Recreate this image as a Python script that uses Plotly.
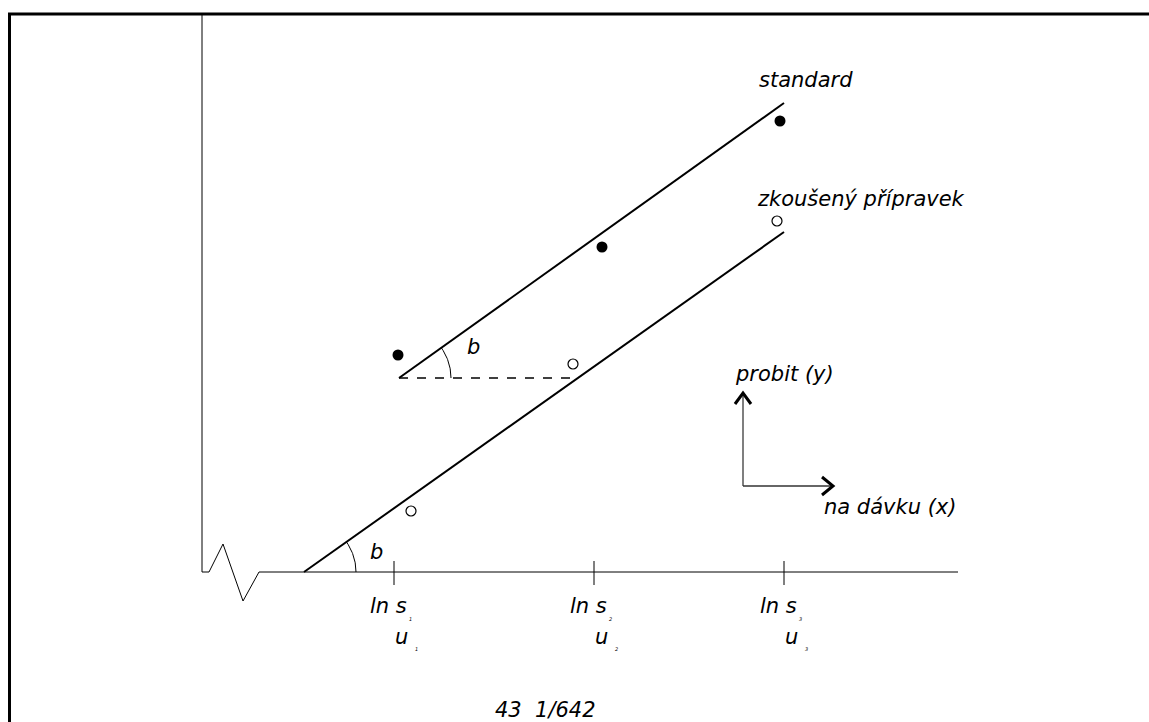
import numpy as np
import plotly.graph_objects as go

# ---- diagram data (diagram units: x = ln dose, y = probit; origin at axis corner) ----
std_x = [1.96, 4.00, 5.78]          # standard (filled points)
std_y = [2.17, 3.25, 4.51]
test_x = [2.09, 3.71, 5.75]         # zkoušený přípravek (open points)
test_y = [0.61, 2.08, 3.51]

std_line_x = [1.97, 5.82]
std_line_y = [1.94, 4.69]
test_line_x = [1.02, 5.82]
test_line_y = [0.00, 3.40]

dash_x = [1.97, 3.71]
dash_y = [1.94, 1.94]

tick_x = [1.92, 3.92, 5.82]
tick_sub = ["1", "2", "3"]

axis_x = [0.00, 0.07, 0.21, 0.41, 0.57, 7.56]   # x axis with break
axis_y = [0.00, 0.00, 0.28, -0.29, 0.00, 0.00]
yaxis_top = 5.58

# small coordinate arrows
arr_origin = (5.41, 0.86)
arr_up_tip = (5.41, 1.79)
arr_right_tip = (6.31, 0.86)

FONT = "DejaVu Sans"
FS = 21

fig = go.Figure()

def line(xs, ys, w=1, color="black", dash=None):
    fig.add_trace(go.Scatter(x=xs, y=ys, mode="lines",
                             line=dict(color=color, width=w, dash=dash),
                             hoverinfo="skip", showlegend=False))

# frame
line([-1.94, 9.47], [yaxis_top, yaxis_top], w=3)
line([-1.925, -1.925], [yaxis_top, -1.5], w=3)

# axes
line([0, 0], [0, yaxis_top], w=1)
line(axis_x, axis_y, w=1)
for tx in tick_x:
    line([tx, tx], [0.11, -0.13], w=1)

# regression lines
line(std_line_x, std_line_y, w=2)
line(test_line_x, test_line_y, w=2)
line(dash_x, dash_y, w=1.5, dash="dash")

# angle arcs
def arc(cx, cy, r, x2, y2, x1, y1):
    ang = np.arctan2(y2 - y1, x2 - x1)
    t = np.linspace(0, ang, 40)
    line(cx + r * np.cos(t), cy + r * np.sin(t), w=1)

arc(std_line_x[0], std_line_y[0], 0.52, std_line_x[1], std_line_y[1], std_line_x[0], std_line_y[0])
arc(test_line_x[0], test_line_y[0], 0.52, test_line_x[1], test_line_y[1], test_line_x[0], test_line_y[0])

# points
fig.add_trace(go.Scatter(x=std_x, y=std_y, mode="markers",
                         marker=dict(size=11, color="black", line=dict(width=0)),
                         showlegend=False, hoverinfo="skip"))
fig.add_trace(go.Scatter(x=test_x, y=test_y, mode="markers",
                         marker=dict(size=10, color="white", line=dict(width=1.2, color="black")),
                         showlegend=False, hoverinfo="skip"))

# coordinate arrows
ox, oy = arr_origin
line([ox, arr_up_tip[0]], [oy, arr_up_tip[1]], w=1.5, color="#555555")
line([ox, arr_right_tip[0]], [oy, arr_right_tip[1]], w=1.5, color="#333333")
ux, uy = arr_up_tip
line([ux - 0.08, ux, ux + 0.08], [uy - 0.11, uy, uy - 0.11], w=3)
rx, ry = arr_right_tip
line([rx - 0.11, rx, rx - 0.11], [ry + 0.09, ry, ry - 0.09], w=3)

def text(x, y, s, size=FS, anchor="left"):
    fig.add_annotation(x=x, y=y, xref="x", yref="y", text=s, showarrow=False,
                       xanchor=anchor, yanchor="middle",
                       font=dict(family=FONT, size=size, color="black", style="italic"))

text(5.55, 4.92, "standard")
text(5.53, 3.73, "zkoušený přípravek")
text(5.31, 1.98, "probit (y)")
text(6.20, 0.65, "na dávku (x)")
text(2.91, -1.38, "43  1/642")
text(2.71, 2.25, "b", anchor="center")
text(1.74, 0.20, "b", anchor="center")

for tx, sub in zip(tick_x, tick_sub):
    text(tx - 0.26, -0.34, "ln s")
    text(tx + 0.13, -0.47, sub, size=5)
    text(tx + 0.07, -0.65, "u", anchor="center")
    text(tx + 0.19, -0.77, sub, size=5)

fig.update_layout(
    width=1149, height=722, autosize=False,
    margin=dict(l=0, r=0, t=0, b=0),
    paper_bgcolor="white", plot_bgcolor="white",
    xaxis=dict(range=[-2.02, 9.47], visible=False, fixedrange=True),
    yaxis=dict(range=[-1.50, 5.72], visible=False, fixedrange=True),
    showlegend=False,
)

fig.write_html(
    "out.html",
    config={"displayModeBar": False, "staticPlot": True},
    post_script="document.body.style.margin='0px';document.body.style.overflow='hidden';",
)
